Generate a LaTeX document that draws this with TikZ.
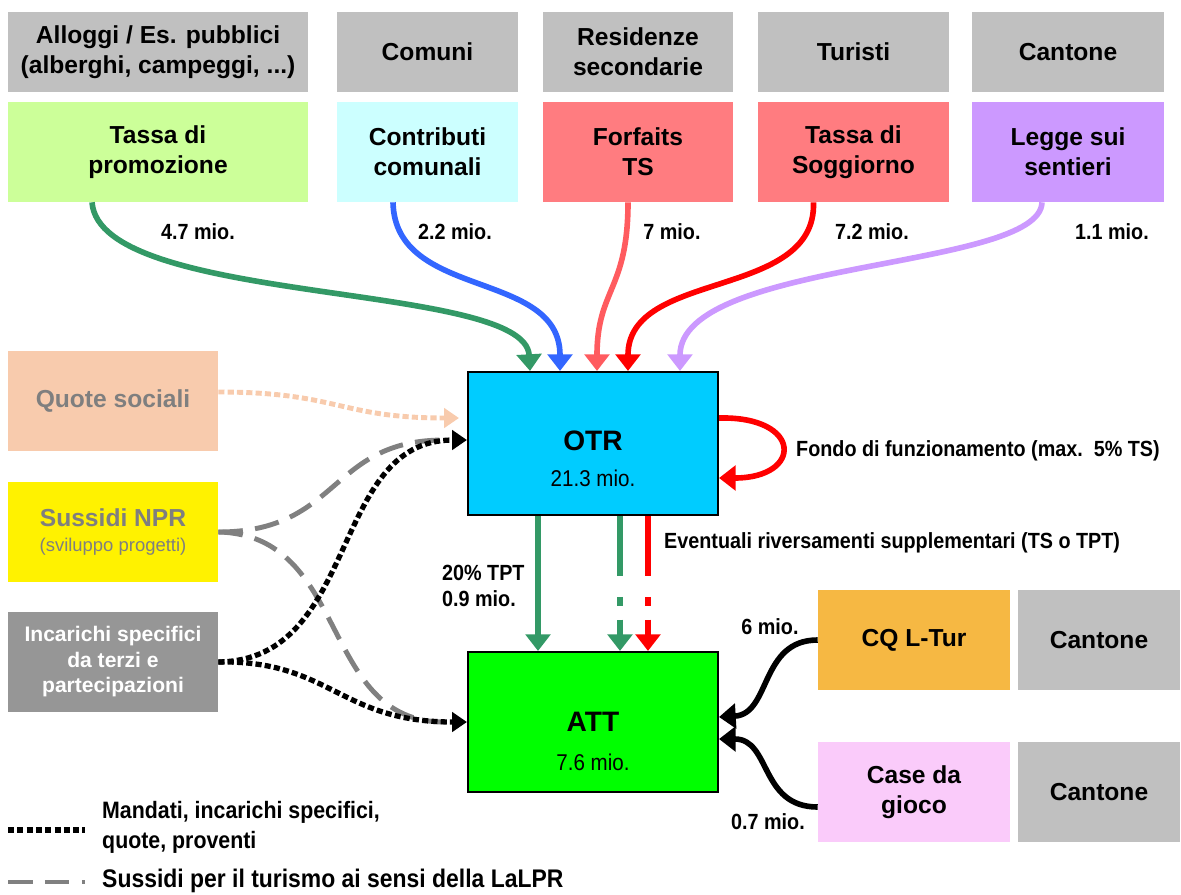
\documentclass[tikz,border=0pt]{standalone}
\usepackage{fontspec}
\setmainfont{Liberation Sans}
\newfontfamily\narrowfont[FakeStretch=0.9]{Liberation Sans}
\usetikzlibrary{arrows.meta}
\definecolor{boxgrey}{HTML}{C0C0C0}
\definecolor{promo}{HTML}{CCFF99}
\definecolor{comuni}{HTML}{CCFFFF}
\definecolor{forfait}{HTML}{FF7C80}
\definecolor{sentieri}{HTML}{CC99FF}
\definecolor{quote}{HTML}{F8CBAD}
\definecolor{txtgrey}{HTML}{7F7F7F}
\definecolor{incgrey}{HTML}{969696}
\definecolor{otrblue}{HTML}{00CCFF}
\definecolor{attgreen}{HTML}{00FF00}
\definecolor{cqorange}{HTML}{F6B843}
\definecolor{casepink}{HTML}{FACBFA}
\definecolor{flowgreen}{HTML}{339966}
\definecolor{flowblue}{HTML}{3366FF}
\definecolor{flowpink}{HTML}{FF5B5F}
\definecolor{dashgrey}{HTML}{808080}
\begin{document}
\begin{tikzpicture}[x=0.02cm,y=-0.02cm,
    box/.style={minimum height=2cm,align=center,inner sep=1pt,font=\bfseries\fontsize{14}{17}\selectfont},
    flow/.style={line width=3.2pt,-{Triangle[width=14pt,length=9.5pt]}},
    dotflow/.style={line width=3pt,dash pattern=on 3.5pt off 1.8pt,-{Triangle[width=11pt,length=8.5pt]}},
    dashflow/.style={line width=2.8pt,dashgrey,dash pattern=on 14pt off 7pt},
    lbl/.style={font=\narrowfont\bfseries\fontsize{12.5}{15}\selectfont}]
\useasboundingbox (0,0) rectangle (1181,894);
\foreach \n/\x/\w/\head/\col/\txt in {
    1/158/6/{Alloggi / Es. pubblici\\(alberghi, campeggi, ...)}/promo/{Tassa di\\promozione},
    2/427.5/3.62/Comuni/comuni/{Contributi\\comunali},
    3/638/3.8/{Residenze\\secondarie}/forfait/{Forfaits\\TS},
    4/853.5/3.82/Turisti/forfait/{Tassa di\\Soggiorno},
    5/1068/3.84/Cantone/sentieri/{Legge sui\\sentieri}} {
    \node[box,fill=boxgrey,minimum width=\w cm,minimum height=1.6cm] (g\n) at (\x,52) {\head};
    \node[box,fill=\col,minimum width=\w cm] (c\n) at (\x,152) {\txt};
}
\node[box,fill=quote,text=txtgrey,minimum width=4.2cm] (quote) at (113,401) {Quote sociali};
\node[box,fill=yellow,text=txtgrey,minimum width=4.2cm] (npr) at (113,532) {Sussidi NPR\\[-3pt]{\mdseries\fontsize{10.5}{12}\selectfont(sviluppo progetti)}};
\node[box,fill=incgrey,text=white,minimum width=4.2cm,font=\bfseries\fontsize{12}{14.5}\selectfont] (inc) at (113,662) {Incarichi specifici\\da terzi e\\partecipazioni};
\node[draw,line width=1.2pt,fill=otrblue,minimum width=5cm,minimum height=2.86cm] (otr) at (593,443.5) {};
\node[font=\bfseries\fontsize{16}{18}\selectfont] (otrname) at ([yshift=0.06cm]otr.center) {OTR};
\node[font=\narrowfont\fontsize{13}{15}\selectfont] (otrsum) at ([yshift=-0.7cm]otr.center) {21.3 mio.};
\node[draw,line width=1.2pt,fill=attgreen,minimum width=5cm,minimum height=2.8cm] (att) at (593,722) {};
\node[font=\bfseries\fontsize{16}{18}\selectfont] (attname) at (att.center) {ATT};
\node[font=\narrowfont\fontsize{13}{15}\selectfont] (attsum) at ([yshift=-0.8cm]att.center) {7.6 mio.};
\node[box,fill=cqorange,minimum width=3.84cm] (cq) at (914,640) {CQ L-Tur};
\node[box,fill=boxgrey,minimum width=3.24cm] (cant1) at (1099,640) {Cantone};
\node[box,fill=casepink,minimum width=3.84cm] (cas) at (914,792) {Case da\\gioco};
\node[box,fill=boxgrey,minimum width=3.24cm] (cant2) at (1099,792) {Cantone};
\draw[flow,flowgreen] ([xshift=-1.32cm]c1.south) .. controls +(8,104) and +(-5,-90) .. ([xshift=-1.26cm]otr.north);
\draw[flow,flowblue] ([xshift=-0.69cm]c2.south) .. controls +(2,98) and +(0,-102) .. ([xshift=-0.66cm]otr.north);
\draw[flow,flowpink] ([xshift=-0.2cm]c3.south) .. controls +(0,88) and +(0,-82) .. ([xshift=0.08cm]otr.north);
\draw[flow,red] ([xshift=-0.8cm]c4.south) .. controls +(3,98) and +(0,-102) .. ([xshift=0.7cm]otr.north);
\draw[flow,sentieri] ([xshift=-0.52cm]c5.south) .. controls +(-2,68) and +(0,-112) .. ([xshift=1.74cm]otr.north);
\node[lbl] (m1) at (198,232) {4.7 mio.};
\node[lbl] (m2) at (455,232) {2.2 mio.};
\node[lbl] (m3) at (672,232) {7 mio.};
\node[lbl] (m4) at (872,232) {7.2 mio.};
\node[lbl] (m5) at (1112,232) {1.1 mio.};
\draw[dotflow,quote,line width=2.8pt] ([yshift=0.18cm]quote.east) .. controls +(120,0) and +(-120,0) .. ([xshift=-0.16cm,yshift=0.51cm]otr.west);
\draw[dashflow] (npr.east) .. controls +(122,0) and +(-115,0) .. ([xshift=-0.46cm,yshift=0.07cm]otr.west);
\draw[dashflow] (npr.east) .. controls +(132,3) and +(-125,0) .. ([xshift=-0.46cm]att.west);
\draw[dotflow] (inc.east) .. controls +(142,-2) and +(-138,0) .. ([yshift=0.07cm]otr.west);
\draw[dotflow] (inc.east) .. controls +(112,-2) and +(-128,0) .. (att.west);
\draw[flow,red] ([yshift=0.51cm]otr.east) .. controls +(84,-2) and +(84,0) .. ([yshift=-0.69cm]otr.east);
\node[lbl,anchor=west] (fondo) at (790,451) {Fondo di funzionamento (max.\ \ 5\% TS)};
\draw[flow,flowgreen] ([xshift=-1.1cm]otr.south) -- ([xshift=-1.1cm]att.north);
\draw[flow,flowgreen,dash pattern=on 34pt off 12pt on 5pt off 8pt on 60pt off 0pt] ([xshift=0.54cm]otr.south) -- ([xshift=0.54cm]att.north);
\draw[flow,red,dash pattern=on 34pt off 12pt on 5pt off 8pt on 60pt off 0pt] ([xshift=1.1cm]otr.south) -- ([xshift=1.1cm]att.north);
\node[lbl,anchor=west] (event) at (658,543) {Eventuali riversamenti supplementari (TS o TPT)};
\node[lbl,anchor=west,align=left] (tpt) at (436,586) {20\% TPT\\0.9 mio.};
\draw[flow] (cq.west) .. controls +(-58,0) and +(52,-3) .. ([yshift=0.1cm]att.east);
\draw[flow] ([yshift=-0.3cm]cas.west) .. controls +(-58,0) and +(52,0) .. ([yshift=-0.34cm]att.east);
\node[lbl] (m6) at (770,627) {6 mio.};
\node[lbl] (m7) at (768,822) {0.7 mio.};
\coordinate (dotleft) at (8,830);
\coordinate (dotright) at (85,830);
\coordinate (dashleft) at (8,882);
\coordinate (dashright) at (85,882);
\draw[line width=3pt,dash pattern=on 3.5pt off 1.8pt] (dotleft) -- (dotright);
\draw[dashflow] (dashleft) -- (dashright);
\node[lbl,anchor=west,align=left,font=\narrowfont\bfseries\fontsize{13.5}{17}\selectfont] (leg1) at (96,827) {Mandati, incarichi specifici,\\quote, proventi};
\node[lbl,anchor=west,font=\narrowfont\bfseries\fontsize{14.5}{17}\selectfont] (leg2) at (96,881) {Sussidi per il turismo ai sensi della LaLPR};
\end{tikzpicture}
\end{document}
